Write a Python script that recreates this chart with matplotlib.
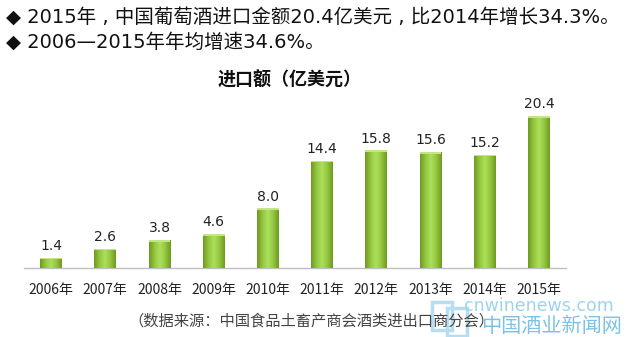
import numpy as np
import matplotlib.pyplot as plt
from matplotlib.colors import LinearSegmentedColormap
from matplotlib.patches import Rectangle

plt.rcParams['font.family'] = ['Noto Sans CJK SC', 'DejaVu Sans']

years = ['2006年', '2007年', '2008年', '2009年', '2010年',
         '2011年', '2012年', '2013年', '2014年', '2015年']
imports = [1.4, 2.6, 3.8, 4.6, 8.0, 14.4, 15.8, 15.6, 15.2, 20.4]
value_labels = ['1.4', '2.6', '3.8', '4.6', '8.0', '14.4', '15.8', '15.6', '15.2', '20.4']

headline_1 = '◆ 2015年 , 中国葡萄酒进口金额20.4亿美元 , 比2014年增长34.3%。'
headline_2 = '◆ 2006—2015年年均增速34.6%。'
chart_title = '进口额（亿美元）'
source_note = '（数据来源：中国食品土畜产商会酒类进出口商分会）'

fig = plt.figure(figsize=(6.26, 3.37), dpi=100)
fig.patch.set_facecolor('white')

# plot area: baseline at y=268px, x from 24px to 566px
ax = fig.add_axes([24 / 626, 1 - 268 / 337, 542 / 626, 179 / 337])
x = np.arange(len(years))
bars = ax.bar(x, imports, width=0.4, color='#8cbf3a', zorder=2)

# horizontal shading so the bars look rounded
shade = LinearSegmentedColormap.from_list(
    'shade', ['#6e9a22', '#94c63f', '#ace05c', '#94c63f', '#6e9a22'])
grad = np.linspace(0, 1, 64).reshape(1, -1)
for b in bars:
    x0, w, h = b.get_x(), b.get_width(), b.get_height()
    im = ax.imshow(grad, cmap=shade, extent=[x0, x0 + w, 0, h],
                   aspect='auto', zorder=3)
    im.set_clip_path(b)
    # lighter cap at the top
    ax.fill_between([x0, x0 + w], h - 0.25, h, color='#c4e585', zorder=4, lw=0)

for xi, v, lab in zip(x, imports, value_labels):
    ax.text(xi, v + 0.6, lab, ha='center', va='bottom', fontsize=10,
            color='#222222', family=['DejaVu Sans'])

ax.set_xlim(-0.5, len(years) - 0.5)
ax.set_ylim(0, 24)
ax.set_yticks([])
ax.set_xticks(x)
ax.set_xticklabels(years, fontsize=10, color='#222222')
ax.tick_params(axis='x', length=0, pad=11)
for side in ['top', 'right', 'left']:
    ax.spines[side].set_visible(False)
ax.spines['bottom'].set_color('#bfbfbf')
ax.spines['bottom'].set_linewidth(1.0)
ax.set_facecolor('none')

head_font = ['DejaVu Sans', 'Noto Sans CJK SC']
fig.text(6 / 626, 1 - 17 / 337, headline_1, fontsize=14, va='center',
         color='#111111', family=head_font)
fig.text(6 / 626, 1 - 42 / 337, headline_2, fontsize=14, va='center',
         color='#111111', family=head_font)
fig.text(290 / 626, 1 - 80 / 337, chart_title, fontsize=13,
         fontweight='bold', ha='center', va='center', color='#111111')
fig.text(311 / 626, 1 - 321 / 337, source_note, fontsize=11, ha='center',
         va='center', color='#444444')

# site watermark with a small double-square logo
logo_color = '#b5def0'
fig.patches.append(Rectangle((432 / 626, 1 - 330 / 337), 20 / 626, 28 / 337,
                             transform=fig.transFigure, fill=False,
                             ec=logo_color, lw=2.5))
fig.patches.append(Rectangle((447 / 626, 1 - 336 / 337), 20 / 626, 28 / 337,
                             transform=fig.transFigure, fill=False,
                             ec=logo_color, lw=2.5))
fig.text(614 / 626, 1 - 306 / 337, 'cnwinenews.com', fontsize=12.5,
         ha='right', va='center', color='#9fd3ec', family='DejaVu Sans')
fig.text(622 / 626, 1 - 326 / 337, '中国酒业新闻网', fontsize=14.5,
         ha='right', va='center', color='#7cc2e4')

fig.savefig('out.png', dpi=100)
